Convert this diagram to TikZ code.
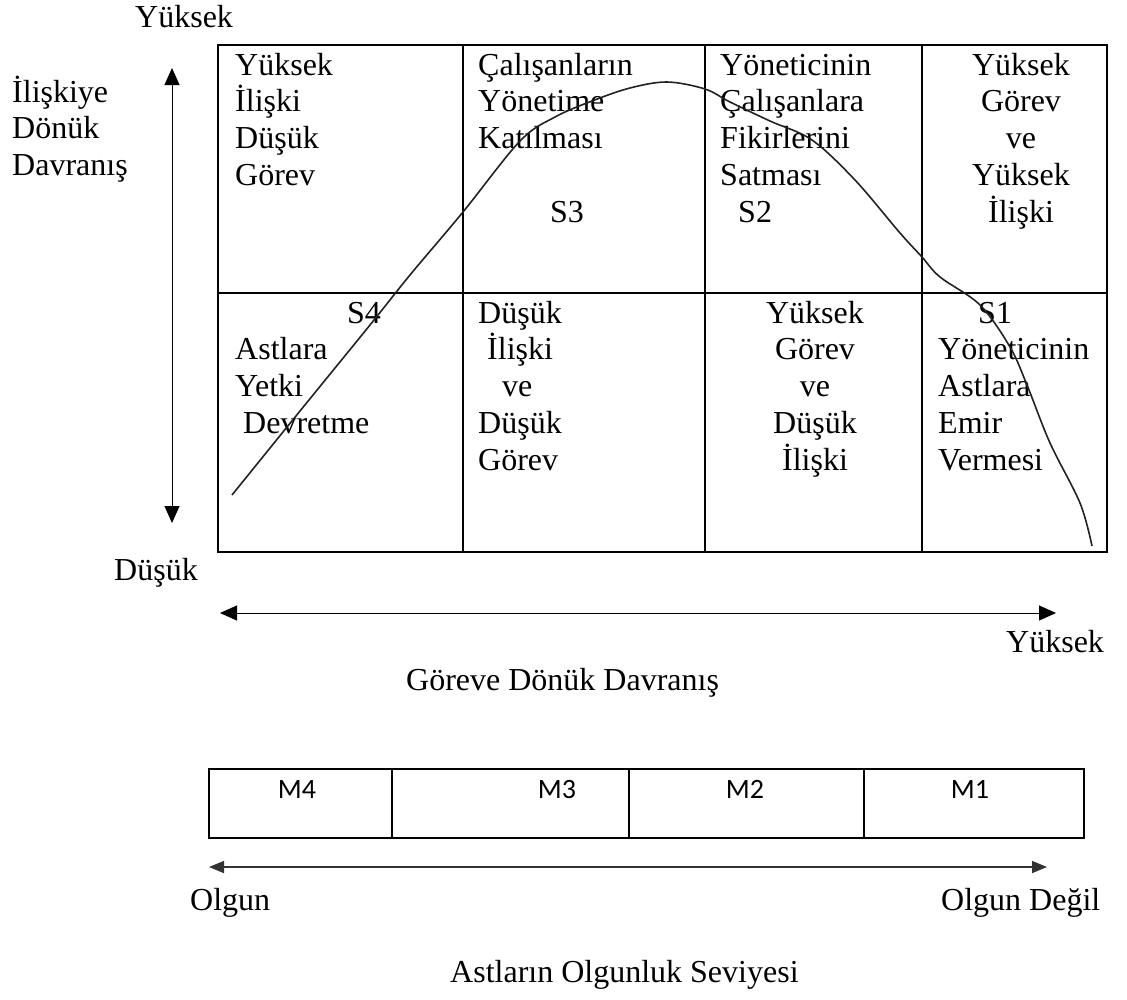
\documentclass[tikz,border=0pt]{standalone}
\usepackage{fontspec}
\setmainfont{Liberation Serif}
\newfontfamily\mfont{Carlito}
\usetikzlibrary{arrows.meta}

% text size used throughout (1pt = one unit of the picture)
\newcommand{\txtsize}{\fontsize{32pt}{36.8pt}\selectfont}
% stacked lines with a fixed baseline distance, first baseline = node base
\newcommand{\leftlines}[1]{\vtop{\baselineskip=36.8pt\lineskiplimit=-1000pt\lineskip=0pt\halign{##\hfil\cr#1\crcr}}}
\newcommand{\midlines}[1]{\vtop{\baselineskip=36.8pt\lineskiplimit=-1000pt\lineskip=0pt\halign{\hfil##\hfil\cr#1\crcr}}}

\definecolor{curvecol}{HTML}{222222}

\begin{document}
\begin{tikzpicture}[x=1pt,y=-1pt,
  every node/.style={inner sep=0pt, font=\txtsize},
  grid/.style={line width=2pt, line cap=rect},
  mgrid/.style={line width=2pt, line cap=rect},
  biarrow/.style={line width=1pt,
    {Triangle[length=17pt,width=15pt]}-{Triangle[length=17pt,width=15pt]}},
  lowarrow/.style={line width=1.6pt, draw=black!80,
    {Triangle[length=15pt,width=12pt]}-{Triangle[length=15pt,width=12pt]}},
  mlabel/.style={font=\mfont\fontsize{28pt}{32pt}\selectfont, anchor=base},
  curve/.style={line width=1.6pt, draw=curvecol}]
\useasboundingbox (0,0) rectangle (1127,999);

% ---- leadership style grid ----
\draw[grid] (218,45) rectangle (1107,552);
\draw[grid] (218,293) -- (1107,293);
\draw[grid] (463,45) -- (463,552);
\draw[grid] (705,45) -- (705,552);
\draw[grid] (922,45) -- (922,552);

% upper row
\node[anchor=base west] (c1) at (235,75) {\leftlines{Yüksek\cr İlişki\cr Düşük\cr Görev}};
\node[anchor=base west] (c2) at (478,75) {\leftlines{Çalışanların\cr Yönetime\cr Katılması\cr\cr\kern72pt S3}};
\node[anchor=base west] (c3) at (720,75) {\leftlines{Yöneticinin\cr Çalışanlara\cr Fikirlerini\cr Satması\cr\kern18pt S2}};
\node[anchor=base] (c4) at (1021,75) {\midlines{Yüksek\cr Görev\cr ve\cr Yüksek\cr İlişki}};
% lower row
\node[anchor=base west] (c5) at (235,323) {\leftlines{\kern112pt S4\cr Astlara\cr Yetki\cr\kern8pt Devretme}};
\node[anchor=base west] (c6) at (478,323) {\leftlines{Düşük\cr\kern9pt İlişki\cr\kern24pt ve\cr Düşük\cr Görev}};
\node[anchor=base] (c7) at (815,323) {\midlines{Yüksek\cr Görev\cr ve\cr Düşük\cr İlişki}};
\node[anchor=base west] (c8) at (938,323) {\leftlines{\kern40pt S1\cr Yöneticinin\cr Astlara\cr Emir\cr Vermesi}};

% ---- style curve ----
\draw[curve] plot[smooth, tension=0.55] coordinates {
  (232,495) (300,411) (370,325) (410,275) (463,212) (520,141)
  (555,117) (592,101) (630,88) (667,82) (705,89) (730,102)
  (770,121) (812,140) (855,180) (900,233) (922,257) (940,277)
  (980,305) (1010,347) (1027,385) (1050,443) (1080,503) (1092,546)};

% ---- relationship axis ----
\node[anchor=base west] (hiRel) at (135,27) {Yüksek};
\node[anchor=base west] (relName) at (12,102) {\leftlines{İlişkiye\cr Dönük\cr Davranış}};
\node[anchor=base west] (loRel) at (114,580) {Düşük};
\coordinate (relTop) at (172,68);
\coordinate (relBot) at (172,523);
\draw[biarrow] (relTop) -- (relBot);

% ---- task axis ----
\coordinate (taskL) at (220,613);
\coordinate (taskR) at (1056,613);
\draw[biarrow] (taskL) -- (taskR);
\node[anchor=base west] (hiTask) at (1006,652) {Yüksek};
\node[anchor=base west] (taskName) at (406,690) {Göreve Dönük Davranış};

% ---- maturity scale ----
\draw[mgrid] (209,769) rectangle (1084,838);
\draw[mgrid] (392,769) -- (392,838);
\draw[mgrid] (629,769) -- (629,838);
\draw[mgrid] (864,769) -- (864,838);
\node[mlabel] (m4) at (297,798) {M4};
\node[mlabel] (m3) at (557,798) {M3};
\node[mlabel] (m2) at (745,798) {M2};
\node[mlabel] (m1) at (970,798) {M1};

\coordinate (matL) at (209,867);
\coordinate (matR) at (1047,867);
\draw[lowarrow] (matL) -- (matR);
\node[anchor=base west] (mature) at (190,910) {Olgun};
\node[anchor=base west] (notMature) at (941,910) {Olgun Değil};
\node[anchor=base west] (matName) at (450,982) {Astların Olgunluk Seviyesi};
\end{tikzpicture}
\end{document}
